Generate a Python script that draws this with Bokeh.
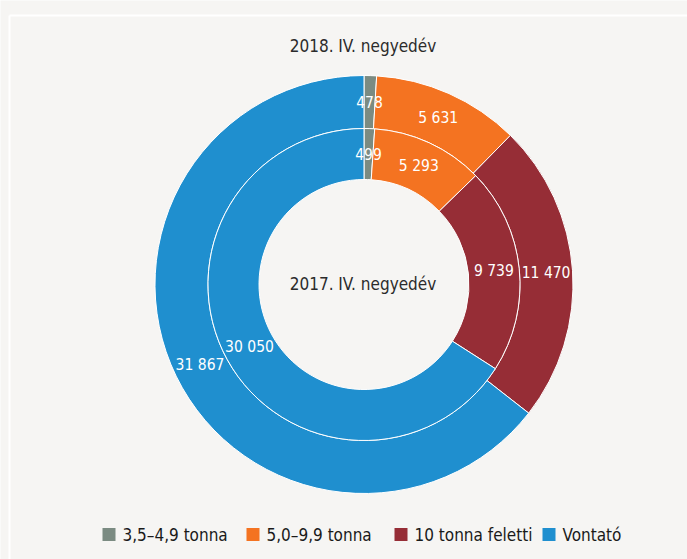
import math
from bokeh.plotting import figure
from bokeh.models import Range1d, ColumnDataSource
from bokeh.core.properties import value
from bokeh.embed import file_html
from bokeh.resources import INLINE

categories = ["3,5–4,9 tonna", "5,0–9,9 tonna", "10 tonna feletti", "Vontató"]
colors = ["#7b8b82", "#f47321", "#962d36", "#1f8fcf"]
values_2018 = [478, 5631, 11470, 31867]
values_2017 = [499, 5293, 9739, 30050]
title_outer = "2018. IV. negyedév"
title_inner = "2017. IV. negyedév"

BG = "#f6f5f3"
FONT = "'DejaVu Sans Condensed', 'Liberation Sans'"
W, H = 687, 559

p = figure(width=W, height=H, output_backend="svg", toolbar_location=None,
           x_range=Range1d(0, W), y_range=Range1d(0, H), min_border=0,
           background_fill_color=BG, border_fill_color=BG, outline_line_color=None)
p.axis.visible = False
p.grid.visible = False

# panel border
p.line([9, 9], [0, 544], line_color="white", line_width=2)
p.line([9, W], [544, 544], line_color="white", line_width=2)

cx, cy = 363.5, 275
r_hole, r_mid, r_out = 105, 156, 209


def ring(vals, r_in, r_o):
    tot = float(sum(vals))
    starts, ends, lx, ly, labels = [], [], [], [], []
    cum = 0.0
    rl = (r_in + r_o) / 2
    for v in vals:
        f0 = cum / tot
        f1 = (cum + v) / tot
        starts.append(math.pi / 2 - f1 * 2 * math.pi)
        ends.append(math.pi / 2 - f0 * 2 * math.pi)
        fm = (f0 + f1) / 2
        th = fm * 2 * math.pi
        lx.append(cx + rl * math.sin(th))
        ly.append(cy + rl * math.cos(th))
        labels.append(f"{v:,}".replace(",", " "))
        cum += v
    src = ColumnDataSource(dict(start=starts, end=ends, color=colors,
                                lx=lx, ly=ly, label=labels))
    p.annular_wedge(x=cx, y=cy, inner_radius=r_in, outer_radius=r_o,
                    inner_radius_units="screen", outer_radius_units="screen",
                    start_angle="start", end_angle="end", fill_color="color",
                    line_color="white", line_width=1, source=src)
    p.text(x="lx", y="ly", text="label", source=src, text_color="white",
           text_font=value(FONT), text_font_size="15.5px",
           text_align="center", text_baseline="middle")


ring(values_2018, r_mid, r_out)
ring(values_2017, r_hole, r_mid)

p.text(x=[362.5], y=[514], text=[title_outer], text_color="#2b2b2b",
       text_font=value(FONT), text_font_size="17px",
       text_align="center", text_baseline="middle")
p.text(x=[362.5], y=[276], text=[title_inner], text_color="#2b2b2b",
       text_font=value(FONT), text_font_size="17px",
       text_align="center", text_baseline="middle")

# legend
leg_x = [102, 246, 394, 542]
leg_y = 25
p.scatter(x=[x + 6.5 for x in leg_x], y=[leg_y] * 4, marker="square", size=13,
          fill_color=colors, line_color=None)
p.text(x=[x + 20 for x in leg_x], y=[leg_y] * 4, text=categories,
       text_color="#1a1a1a", text_font=value(FONT), text_font_size="17px",
       text_align="left", text_baseline="middle")

html = file_html(p, INLINE)
html = html.replace("<body>", f'<body style="background:{BG}">', 1)
open("out.html", "w").write(html)
